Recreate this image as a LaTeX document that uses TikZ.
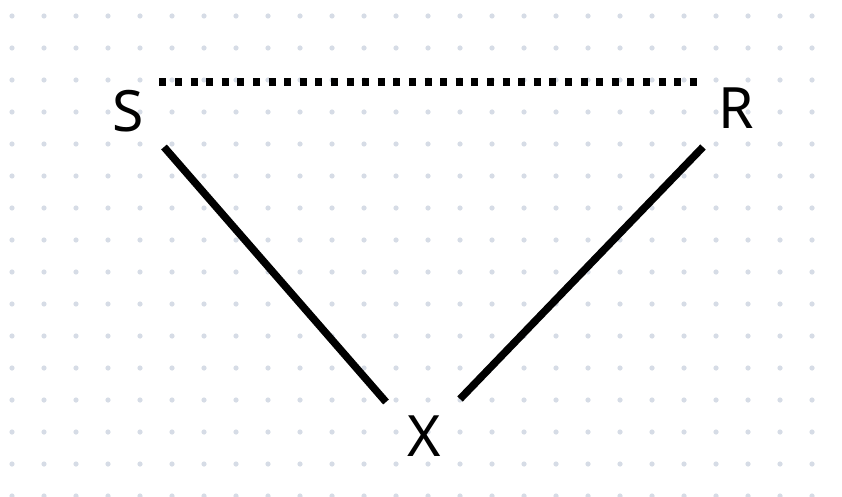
\documentclass[tikz,border=0pt]{standalone}
\usepackage{fontspec}
\setmainfont{Noto Sans}
\definecolor{griddot}{HTML}{D6DCE6}
\begin{document}
\begin{tikzpicture}[x=1pt,y=-1pt,
  lbl/.style={inner sep=0pt, font=\fontsize{57}{60}\selectfont, text=black},
  solidline/.style={line width=7.5pt, black},
  dotline/.style={line width=7.5pt, black, dash pattern=on 7pt off 8.6pt}]
\fill[white] (0,0) rectangle (842,497);
\useasboundingbox (0,0) rectangle (842,497);
\foreach \i in {0,...,25}{
  \foreach \j in {0,...,15}{
    \fill[griddot] (12+32*\i,16+32*\j) circle (2.6);
  }
}
\node[lbl] (S) at (128,111) {S};
\node[lbl] (R) at (736,108) {R};
\node[lbl] (X) at (424,436) {X};
\coordinate (sd) at (159.3,82);
\coordinate (rd) at (697,82);
\coordinate (s1) at (164,147);
\coordinate (x1) at (386,402);
\coordinate (r1) at (703,147);
\coordinate (x2) at (460,399);
\draw[dotline] (sd) -- (rd);
\draw[solidline] (s1) -- (x1);
\draw[solidline] (r1) -- (x2);
\end{tikzpicture}
\end{document}
